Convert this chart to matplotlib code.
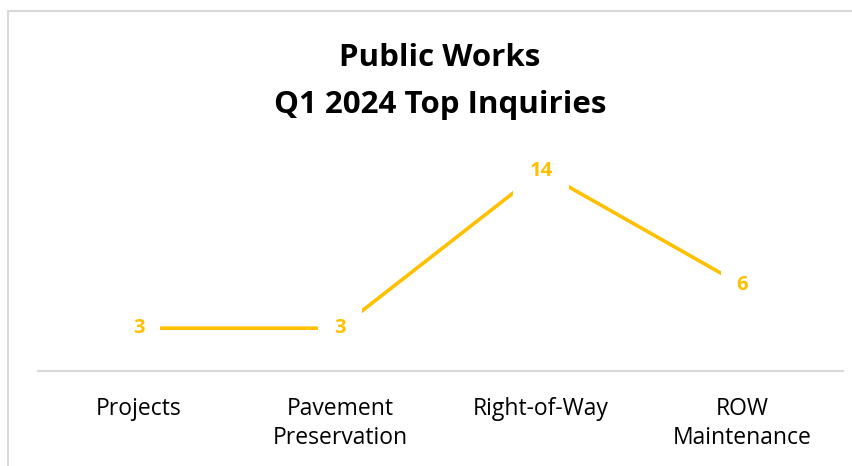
import matplotlib.pyplot as plt
from matplotlib.patches import Rectangle

categories = ["Projects", "Pavement\nPreservation", "Right-of-Way", "ROW\nMaintenance"]
inquiries = [3, 3, 14, 6]

GOLD = "#FFC000"
W, H = 852, 466

plt.rcParams['font.family'] = ['Open Sans', 'DejaVu Sans']

fig = plt.figure(figsize=(W / 100, H / 100), dpi=100)

# light chart border (cut off at right and bottom like the screenshot)
fig.patches.append(Rectangle((8 / W, -0.1), 1.0, 1 - 11 / H + 0.1,
                             transform=fig.transFigure, fill=False,
                             edgecolor="#d9d9d9", linewidth=1.5))

# axes placed in pixels: x from 38 to 843, y=0 at 371 px from top
top_val = 16
px_per_unit = (328 - 171) / 11
ax_h = top_val * px_per_unit
ax = fig.add_axes([38 / W, (H - 371) / H, (843 - 38) / W, ax_h / H])

x = list(range(len(categories)))
ax.plot(x, inquiries, color=GOLD, linewidth=2.6, solid_capstyle="butt", zorder=2)

for xi, v in zip(x, inquiries):
    ax.text(xi, v, str(v), ha="center", va="center", color=GOLD,
            fontsize=14.5, fontweight="bold", zorder=3,
            bbox=dict(boxstyle="square,pad=0.8", facecolor="white", edgecolor="none"))

ax.set_xlim(-0.5, len(categories) - 0.5)
ax.set_ylim(0, top_val)
ax.set_xticks(x)
ax.set_xticklabels(categories, fontsize=16.5, color="#000000", linespacing=1.3)
ax.tick_params(axis="x", length=0, pad=18.5)
ax.set_yticks([])
for side in ["top", "right", "left"]:
    ax.spines[side].set_visible(False)
ax.spines["bottom"].set_color("#d9d9d9")
ax.spines["bottom"].set_linewidth(1.5)

fig.text(440 / W, 1 - 58 / H, "Public Works", ha="center", va="center",
         fontsize=22.5, fontweight="bold")
fig.text(440 / W, 1 - 105 / H, "Q1 2024 Top Inquiries", ha="center", va="center",
         fontsize=22.5, fontweight="bold")

fig.savefig("out.png", dpi=100)
